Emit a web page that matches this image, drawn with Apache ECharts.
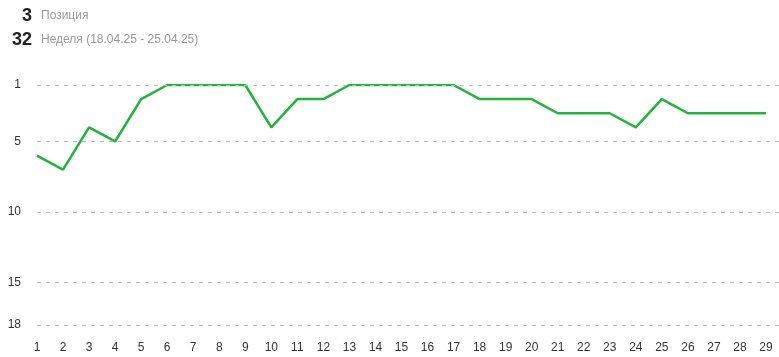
<!DOCTYPE html>
<html><head><meta charset="utf-8">
<script src="https://cdn.jsdelivr.net/npm/echarts@6/dist/echarts.min.js"></script>
<style>html,body{margin:0;padding:0;background:#fff}#c{width:779px;height:357px}</style>
</head><body><div id="c"></div>
<script>
var days = [1,2,3,4,5,6,7,8,9,10,11,12,13,14,15,16,17,18,19,20,21,22,23,24,25,26,27,28,29];
var positions = [6,7,4,5,2,1,1,1,1,4,2,2,1,1,1,1,1,2,2,2,3,3,3,4,2,3,3,3,3];
var yTicks = [1,5,10,15,18];
var headerPosition = '3';
var headerPositionLabel = 'Позиция';
var headerWeek = '32';
var headerWeekLabel = 'Неделя (18.04.25 - 25.04.25)';

var chart = echarts.init(document.getElementById('c'));
var font = 'Arial, "Liberation Sans", sans-serif';
chart.setOption({
  animation: false,
  grid: {left: 37, right: 0, top: 85, bottom: 32, outerBoundsMode: 'none', containLabel: false},
  graphic: [
    {type:'text', right: 779-32, top: 7, style:{text: headerPosition, font:'bold 18px ' + font, fill:'#222', textAlign:'right'}},
    {type:'text', left: 41, top: 10, style:{text: headerPositionLabel, font:'12px ' + font, fill:'#999'}},
    {type:'text', right: 779-32, top: 31, style:{text: headerWeek, font:'bold 18px ' + font, fill:'#222', textAlign:'right'}},
    {type:'text', left: 41, top: 34, style:{text: headerWeekLabel, font:'12px ' + font, fill:'#999'}}
  ],
  xAxis: {
    type: 'value', min: 1, max: 29.5, interval: 1,
    axisLine: {show:false}, axisTick: {show:false}, splitLine: {show:false},
    axisLabel: {color:'#333', fontSize: 12, fontFamily: font, margin: 17,
      formatter: function(v){ return Number.isInteger(v) ? String(v) : ''; }}
  },
  yAxis: {
    type: 'value', inverse: true, min: 1, max: 18,
    axisLine: {show:false}, axisTick: {show:false}, splitLine: {show:false},
    axisLabel: {color:'#333', fontSize: 12, fontFamily: font, margin: 16, customValues: yTicks}
  },
  series: [{
    type: 'line',
    data: days.map(function(d,i){ return [d, positions[i]]; }),
    symbol: 'none',
    lineStyle: {color:'#22b33a', width: 2.5},
    markLine: {
      silent: true, symbol: 'none', label: {show:false},
      lineStyle: {color:'#bbb', type:[4,5], width:1},
      data: yTicks.map(function(v){ return {yAxis: v}; })
    },
    z: 3
  }]
});
</script></body></html>
